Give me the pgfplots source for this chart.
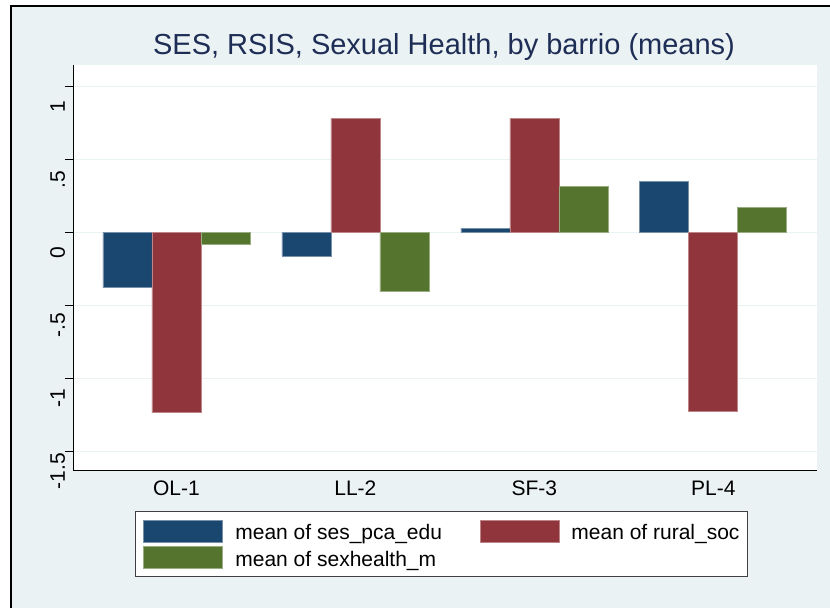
\documentclass[border=0pt]{standalone}
\usepackage{pgfplots}
\pgfplotsset{compat=1.18}
\usepackage{fontspec}
\setmainfont{Liberation Sans}
\definecolor{bg}{RGB}{234,242,243}
\definecolor{snavy}{RGB}{26,71,111}
\definecolor{smaroon}{RGB}{144,53,59}
\definecolor{sgreen}{RGB}{85,117,47}
\definecolor{titlec}{RGB}{30,45,85}
\definecolor{gridc}{RGB}{234,242,243}
\begin{document}
\begin{tikzpicture}[x=1pt,y=1pt]
\useasboundingbox (0,0) rectangle (830,608);
\fill[white] (0,0) rectangle (830,608);
\fill[bg] (11,0) rectangle (830,602);
\draw[black, line width=2pt] (11,0) -- (11,602) -- (830,602);
\node[anchor=base, font=\fontsize{29}{34}\selectfont, text=titlec, inner sep=0pt] at (444,553) {SES, RSIS, Sexual Health, by barrio (means)};
\begin{axis}[
  at={(73pt,137.3pt)}, anchor=south west,
  scale only axis, width=743.7pt, height=405.7pt,
  axis background/.style={fill=white},
  ybar=0pt, bar width=49pt,
  xmin=-0.578, xmax=3.578,
  ymin=-1.633, ymax=1.146,
  xtick={0,1,2,3}, xticklabels={OL-1,LL-2,SF-3,PL-4},
  ytick={-1.5,-1,-0.5,0,0.5,1},
  yticklabels={-1.5,-1,-.5,0,.5,1},
  axis x line*=bottom, axis y line*=left,
  axis line style={black, line width=0.8pt},
  tick align=outside, major tick length=8pt,
  xtick style={draw=none},
  ytick style={black, line width=0.8pt},
  ymajorgrids, major grid style={gridc, line width=1.5pt},
  tick label style={font=\fontsize{21}{25}\selectfont},
  yticklabel style={rotate=90, anchor=base, xshift=-20pt},
  xticklabel style={anchor=base, yshift=-17pt},
  legend columns=2,
  legend cell align=left,
  legend image code/.code={\fill[#1] (0pt,-2pt) rectangle (79pt,20pt);},
  legend style={at={(0.4955,-0.1)}, anchor=north, draw=black!75, line width=0.8pt, fill=white,
    font=\fontsize{21}{25}\selectfont, inner xsep=8pt, inner ysep=8pt, row sep=3.6pt,
    nodes={inner sep=0pt, anchor=base west},
    /tikz/every odd column/.append style={column sep=12.3pt},
    /tikz/every even column/.append style={column sep=37.5pt}},
]
\addplot[fill=snavy, draw=snavy!60!white, line width=0.6pt] coordinates {(0,-0.379) (1,-0.162) (2,0.029) (3,0.351)};
\addplot[fill=smaroon, draw=smaroon!60!white, line width=0.6pt] coordinates {(0,-1.236) (1,0.781) (2,0.781) (3,-1.224)};
\addplot[fill=sgreen, draw=sgreen!60!white, line width=0.6pt] coordinates {(0,-0.085) (1,-0.407) (2,0.312) (3,0.168)};
\legend{mean of ses\_pca\_edu, mean of rural\_soc\hspace{10pt}, mean of sexhealth\_m}
\end{axis}
\end{tikzpicture}
\end{document}
